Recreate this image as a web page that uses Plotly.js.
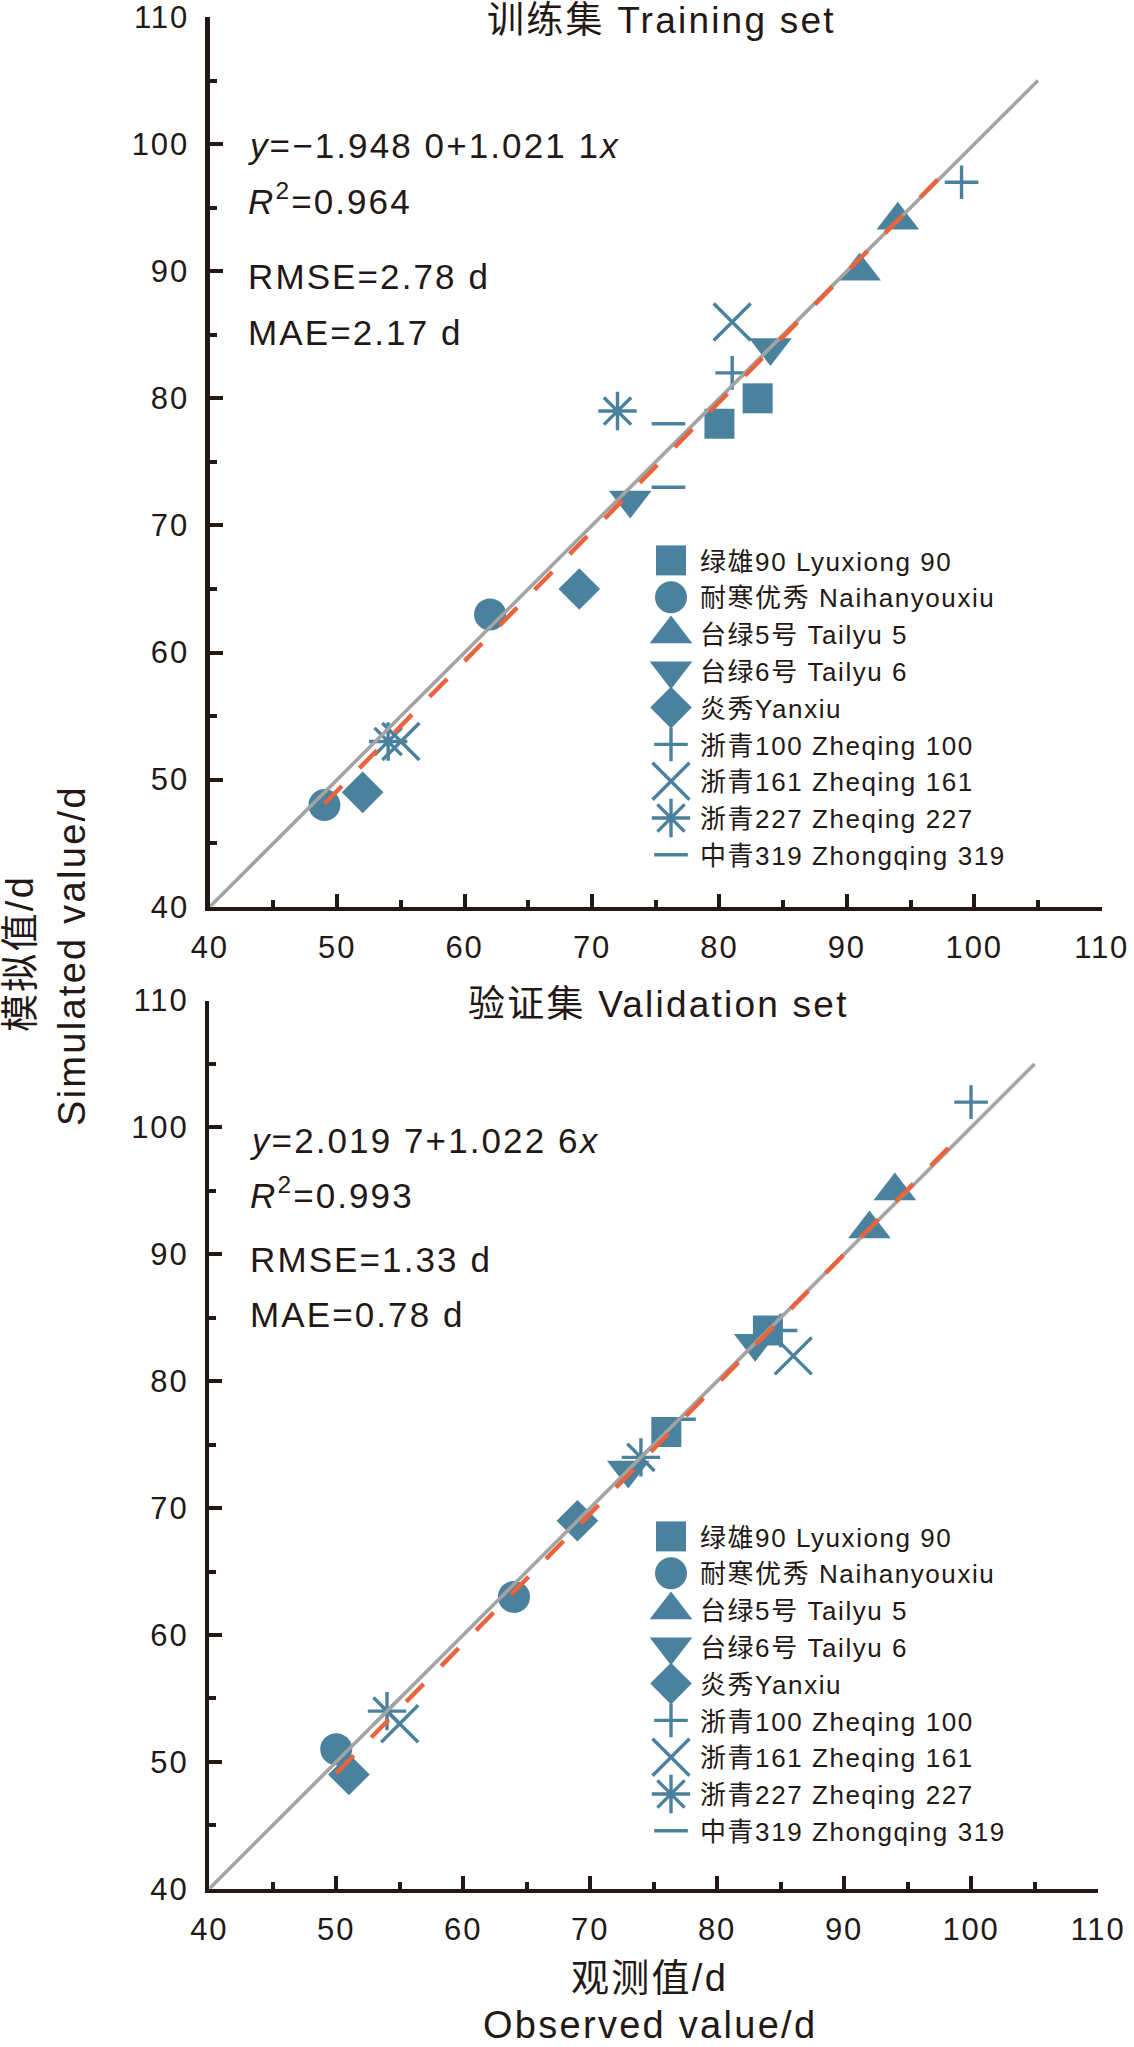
<!DOCTYPE html>
<html>
<head>
<meta charset="utf-8">
<script src="https://cdn.plot.ly/plotly-3.0.1.min.js"></script>
<style>
  html, body { margin: 0; padding: 0; background: #fff; }
  #chart { width: 1134px; height: 2047px; }
  svg text { letter-spacing: 0.06em; }
</style>
</head>
<body>
<div id="chart"></div>
<script>
// varieties, in legend order
const varieties = [
	"绿雄90 Lyuxiong 90",
	"耐寒优秀 Naihanyouxiu",
	"台绿5号 Tailyu 5",
	"台绿6号 Tailyu 6",
	"炎秀Yanxiu",
	"浙青100 Zheqing 100",
	"浙青161 Zheqing 161",
	"浙青227 Zheqing 227",
	"中青319 Zhongqing 319"
]

// training set: observed / simulated (d)
const trainObs = [
	[80, 83],
	[49, 62],
	[91, 94],
	[73, 84],
	[52, 69],
	[81, 99],
	[55, 81],
	[54, 72],
	[76, 76]
]
const trainSim = [
	[78, 80],
	[48, 63],
	[90, 94],
	[72, 84],
	[49, 65],
	[82, 97],
	[53, 86],
	[53, 79],
	[78, 73]
]

// validation set: observed / simulated (d)
const validObs = [
	[76, 84],
	[50, 64],
	[92, 94],
	[73, 83],
	[51, 69],
	[100, 85],
	[86, 55],
	[54, 74],
	[77]
]
const validSim = [
	[76, 84],
	[51, 63],
	[92, 95],
	[73, 83],
	[49, 69],
	[102, 84],
	[82, 53],
	[54, 74],
	[77]
]

// 1:1 line and fitted lines (end points)
const refX = [40, 105]
const refY = [40, 105]
const trainFitX = [49, 98]
const trainFitY = [48.1, 98.1]
const validFitX = [50, 99]
const validFitY = [49.1, 99.2]

const trainStats = ["<i>y</i>=−1.948 0+1.021 1<i>x</i>", "<i>R</i><sup>2</sup>=0.964", "RMSE=2.78 d", "MAE=2.17 d"]
const validStats = ["<i>y</i>=2.019 7+1.022 6<i>x</i>", "<i>R</i><sup>2</sup>=0.993", "RMSE=1.33 d", "MAE=0.78 d"]

const tickVals = [40, 50, 60, 70, 80, 90, 100, 110]


const W = 1134, H = 2047
const INK = "#231815"
const TEAL = "#4a819d"
const FONT = "'Liberation Sans', Arial, 'Noto Sans CJK SC', sans-serif"

const symbols = ["square", "circle", "triangle-up", "triangle-down", "diamond", "cross-thin", "x-thin", "asterisk", "line-ew"]
const sizes = [30, 32, 37, 37, 32, 24, 37, 32, 24]

const px = v => v / W
const py = v => 1 - v / H


function markerTraces(obsArr, simArr, xa, ya, legend) {
	return varieties.map((name, i) => ({
		type: "scatter",
		mode: "markers",
		name: name,
		x: obsArr[i],
		y: simArr[i],
		xaxis: xa,
		yaxis: ya,
		legend: legend,
		marker: {
			symbol: symbols[i],
			size: sizes[i],
			color: TEAL,
			line: { color: TEAL, width: i >= 5 ? 3.4 : 0 }
		},
		hoverinfo: "x+y"
	}))
}

function lineTraces(fitX, fitY, xa, ya) {
	return [
		{
			type: "scatter", mode: "lines", x: refX, y: refY, xaxis: xa, yaxis: ya,
			showlegend: false, line: { color: "#a3a3a3", width: 3.6 }, hoverinfo: "skip"
		},
		{
			type: "scatter", mode: "lines", x: fitX, y: fitY, xaxis: xa, yaxis: ya,
			showlegend: false, line: { color: "#e9633c", width: 4.4, dash: "25px,25px" }, hoverinfo: "skip"
		}
	]
}

const data = [
	...markerTraces(trainObs, trainSim, "x", "y", "legend"),
	...lineTraces(trainFitX, trainFitY, "x", "y"),
	...markerTraces(validObs, validSim, "x2", "y2", "legend2"),
	...lineTraces(validFitX, validFitY, "x2", "y2")
]


function axis(domain, anchor) {
	return {
		domain: domain,
		anchor: anchor,
		range: [40, 110],
		tickmode: "array",
		tickvals: tickVals,
		ticks: "inside",
		ticklen: 13,
		tickwidth: 4,
		tickcolor: INK,
		minor: { dtick: 5, tick0: 40, ticks: "inside", ticklen: 7, tickwidth: 4, tickcolor: INK },
		showline: true,
		linewidth: 4.5,
		linecolor: INK,
		showgrid: false,
		zeroline: false,
		ticklabeloverflow: "allow",
		ticklabelstandoff: 10,
		tickfont: { family: FONT, size: 31, color: INK },
		fixedrange: true
	}
}

function textNote(text, x, y, size, extra) {
	return Object.assign({
		text: text, xref: "paper", yref: "paper", x: px(x), y: py(y),
		xanchor: "center", yanchor: "middle", showarrow: false,
		font: { family: FONT, size: size, color: INK }
	}, extra || {})
}

const statRowsTop = [146, 199, 277, 333]
const statRowsBottom = [1140, 1193, 1259, 1314]

const annotations = [
	textNote("训练集 Training set", 661, 21, 37),
	textNote("验证集 Validation set", 658, 1004, 37),
	textNote("模拟值/d", 20, 954, 38, { textangle: -90 }),
	textNote("Simulated value/d", 72, 956, 38, { textangle: -90 }),
	textNote("观测值/d", 649, 1978, 38),
	textNote("Observed value/d", 650, 2025, 38),
	...trainStats.map((t, i) => textNote(t, 246, statRowsTop[i], 35, { xanchor: "left" })),
	...validStats.map((t, i) => textNote(t, 248, statRowsBottom[i], 35, { xanchor: "left" }))
]

const legendStyle = {
	xanchor: "left",
	yanchor: "top",
	bgcolor: "rgba(0,0,0,0)",
	borderwidth: 0,
	itemwidth: 48,
	tracegroupgap: 0,
	font: { family: FONT, size: 26, color: INK }
}

const layout = {
	width: W,
	height: H,
	margin: { l: 0, r: 0, t: 0, b: 0 },
	paper_bgcolor: "#fff",
	plot_bgcolor: "rgba(0,0,0,0)",
	showlegend: true,
	xaxis: axis([px(209.75), px(1101.7)], "y"),
	yaxis: axis([py(906.75), py(17)], "x"),
	xaxis2: axis([px(209.25), px(1098)], "y2"),
	yaxis2: axis([py(1888.75), py(1000.6)], "x2"),
	legend: Object.assign({ x: px(642), y: py(537) }, legendStyle),
	legend2: Object.assign({ x: px(642), y: py(1513) }, legendStyle),
	annotations: annotations
}


// legend symbols are capped at 16px by plotly; copy the plotted marker shape into them
function enlargeLegendSymbols(gd) {
	const pts = {}
	gd.querySelectorAll(".scatterlayer g.trace").forEach(tr => {
		const d = tr.__data__
		const p = tr.querySelector("path.point")
		if (d && d[0] && p) pts[d[0].trace.index] = p
	})
	gd.querySelectorAll("g.traces").forEach(item => {
		const d = item.__data__
		if (!d || !d[0]) return
		const src = pts[d[0].trace.index]
		const dst = item.querySelector(".legendpoints path.scatterpts")
		if (!src || !dst) return
		dst.setAttribute("d", src.getAttribute("d"))
		dst.style.strokeWidth = src.style.strokeWidth
	})
}

Plotly.newPlot("chart", data, layout, { displayModeBar: false, staticPlot: true })
	.then(gd => enlargeLegendSymbols(gd))
</script>
</body>
</html>
